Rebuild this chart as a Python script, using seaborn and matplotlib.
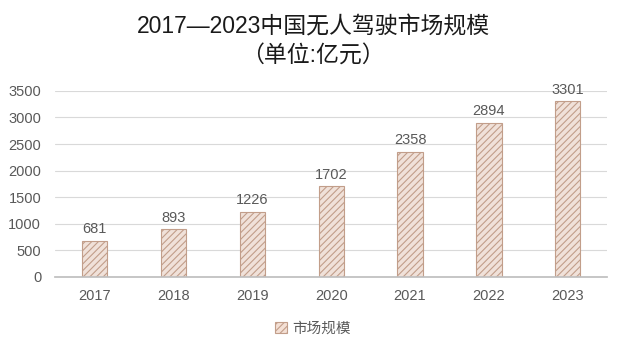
import matplotlib
matplotlib.use("Agg")
import matplotlib.pyplot as plt
from matplotlib.patches import Patch
import pandas as pd
import seaborn as sns

years = ["2017", "2018", "2019", "2020", "2021", "2022", "2023"]
values = [681, 893, 1226, 1702, 2358, 2894, 3301]
series_name = "市场规模"
yticks = [0, 500, 1000, 1500, 2000, 2500, 3000, 3500]

sns.set_theme(style="white")
plt.rcParams['font.family'] = ['Liberation Sans', 'Noto Sans CJK SC', 'DejaVu Sans']
plt.rcParams['hatch.linewidth'] = 0.8

df = pd.DataFrame({"year": years, "value": values, "series": series_name})

fig = plt.figure(figsize=(6.26, 3.55), dpi=100)
ax = fig.add_axes([0.088, 0.22, 0.882, 0.524])

sns.barplot(data=df, x="year", y="value", hue="series", ax=ax,
            width=0.32, palette=["#f4e0d5"],
            edgecolor="#c29e8a", linewidth=0.8, legend=False)
for p in ax.patches:
    p.set_hatch("/////")

for i, v in enumerate(values):
    ax.text(i, v + 90, str(v), ha="center", va="bottom", fontsize=10.5, color="#595959")

ax.set_ylim(0, 3500)
ax.set_yticks(yticks)
ax.grid(axis="y", color="#d9d9d9", linewidth=0.8)
ax.set_axisbelow(True)
for s in ["top", "right", "left"]:
    ax.spines[s].set_visible(False)
ax.spines["bottom"].set_color("#bfbfbf")
ax.tick_params(axis="both", colors="#595959", labelsize=10.5, length=0)
ax.tick_params(axis="x", pad=9)
ax.tick_params(axis="y", pad=10)
ax.set_xlabel("")
ax.set_ylabel("")

fig.text(0.5, 0.925, "2017—2023中国无人驾驶市场规模", ha="center", va="center",
         fontsize=16.5, color="#1a1a1a")
fig.text(0.5, 0.845, "（单位:亿元）", ha="center", va="center",
         fontsize=16.5, color="#1a1a1a")

handle = Patch(facecolor="#f4e0d5", edgecolor="#c29e8a", hatch="/////", linewidth=0.8)
fig.legend([handle], [series_name], loc="center", bbox_to_anchor=(0.5, 0.075),
           frameon=False, fontsize=10.5, labelcolor="#595959",
           handlelength=0.8, handleheight=0.8, handletextpad=0.4)

fig.savefig("out.png", dpi=100)
